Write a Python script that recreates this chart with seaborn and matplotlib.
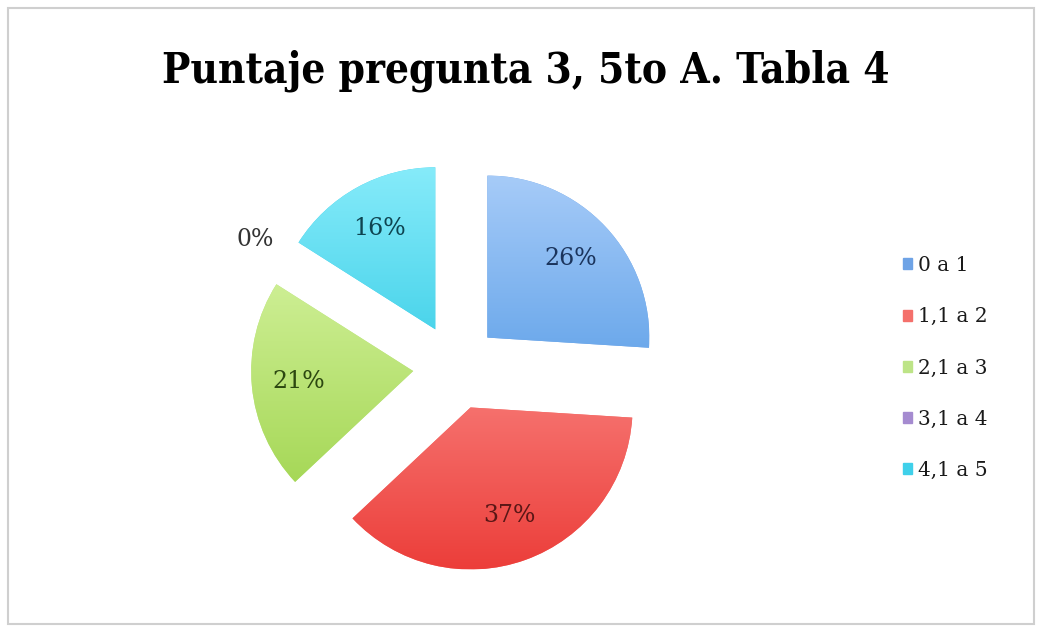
import numpy as np
import matplotlib
matplotlib.use("Agg")
import matplotlib.pyplot as plt
import matplotlib.patches as mpatches
from matplotlib.colors import LinearSegmentedColormap
from matplotlib import font_manager
import seaborn as sns

# ---- data ----
title = "Puntaje pregunta 3, 5to A. Tabla 4"
categories = ["0 a 1", "1,1 a 2", "2,1 a 3", "3,1 a 4", "4,1 a 5"]
percent = [26, 37, 21, 0, 16]

# ---- styles ----
base_colors = ["#6ea3e6", "#f4706b", "#bde487", "#a58bd0", "#3fd0ea"]
top_colors = ["#a6cbf8", "#ffa3a0", "#dcf7aa", "#c2aee2", "#86ebfa"]
bottom_colors = ["#3a8be0", "#ec3e3a", "#9cd248", "#8766bd", "#10bedc"]
text_colors = ["#1b345c", "#5a1716", "#2c4710", "#333333", "#0e4450"]

sns.set_style("white")
plt.rcParams["font.family"] = ["DejaVu Serif"]

# condensed serif for the title if available
cond = [f for f in font_manager.fontManager.ttflist
        if f.name == "DejaVu Serif" and f.stretch == "condensed" and f.weight in ("bold", 700)]
if cond:
    title_fp = font_manager.FontProperties(fname=cond[0].fname, size=30.3)
else:
    title_fp = font_manager.FontProperties(family="DejaVu Serif", weight="bold", size=27)

W, H = 1038, 634
fig = plt.figure(figsize=(W / 100, H / 100), dpi=100)
ax = fig.add_axes([0, 0, 1, 1])

R = 162
center = (456, H - 367)
explode = [43] * len(percent)

palette = sns.color_palette(base_colors)
wedges, texts, autotexts = ax.pie(
    percent, colors=palette, startangle=90, counterclock=False,
    radius=R, center=center, explode=explode, autopct="%1.0f%%",
    pctdistance=0.71, textprops=dict(fontsize=17), frame=True,
    wedgeprops=dict(linewidth=0))

# gradient fill clipped to each wedge
for w, tc, bc in zip(wedges, top_colors, bottom_colors):
    if w.theta1 == w.theta2:
        continue
    cx, cy = w.center
    r = w.r
    cmap = LinearSegmentedColormap.from_list("g", [bc, tc])
    grad = np.linspace(0, 1, 256).reshape(-1, 1)
    im = ax.imshow(grad, cmap=cmap, origin="lower", aspect="auto",
                   extent=(cx - r, cx + r, cy - r, cy + r), zorder=w.get_zorder())
    im.set_clip_path(w)
ax.set_xlim(0, W)
ax.set_ylim(0, H)
ax.set_aspect("equal")
ax.axis("off")

for t, val, w, col in zip(autotexts, percent, wedges, text_colors):
    t.set_color(col)
    t.set_zorder(5)
    if val == 0:
        ang = np.deg2rad(w.theta1)
        cx, cy = w.center
        t.set_position((cx + 1.2 * R * np.cos(ang), cy + 1.2 * R * np.sin(ang)))
        t.set_color("#333333")

# legend
handles = [mpatches.Patch(color=c, label=l) for c, l in zip(base_colors, categories)]
leg = ax.legend(handles=handles, loc="center left",
                bbox_to_anchor=(895 / W, 1 - 368 / H), frameon=False,
                fontsize=14.5, handlelength=0.45, handleheight=0.45,
                handletextpad=0.3, labelspacing=1.6, borderaxespad=0)
for txt in leg.get_texts():
    txt.set_color("#1a1a1a")

# title
fig.text(526 / W, 1 - 71 / H, title, ha="center", va="center",
         fontproperties=title_fp, color="black")

# chart border
fig.patches.append(mpatches.Rectangle((8 / W, 10 / H), (1034 - 8) / W, (626 - 10) / H,
                                      transform=fig.transFigure, fill=False,
                                      edgecolor="#cfcfcf", linewidth=1.5))

fig.savefig("out.png", dpi=100)
